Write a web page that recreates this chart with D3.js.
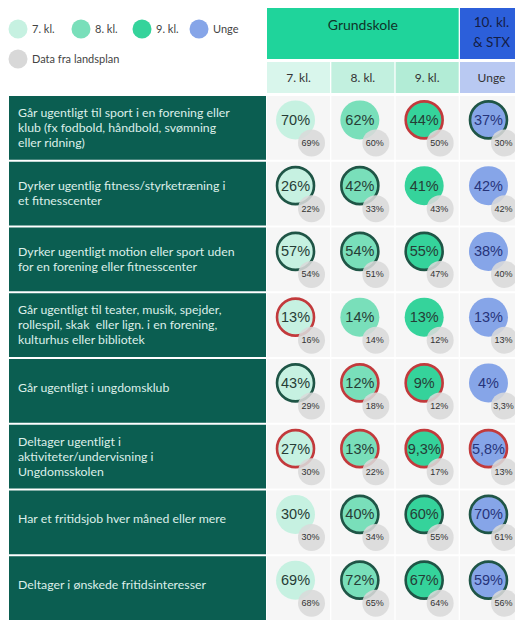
<!DOCTYPE html>
<html>
<head>
<meta charset="utf-8">
<script src="https://cdn.jsdelivr.net/npm/d3@7"></script>
<style>
  body { margin: 0; background: #fff; }
  svg { display: block; }
</style>
</head>
<body>
<svg id="chart"></svg>
<script>
let w = 515;
let h = 621;

let columns = ["7. kl.", "8. kl.", "9. kl.", "Unge"];
let colFill = ["#c6f1e1", "#79dfba", "#35d39b", "#86a5e8"];
let colHead = ["#d9f6ec", "#c2f0df", "#b2ecd6", "#b9c9f2"];

let rowLabels = [
  ["Går ugentligt til sport i en forening eller", "klub (fx fodbold, håndbold, svømning", "eller ridning)"],
  ["Dyrker ugentlig fitness/styrketræning i", "et fitnesscenter"],
  ["Dyrker ugentligt motion eller sport uden", "for en forening eller fitnesscenter"],
  ["Går ugentligt til teater, musik, spejder,", "rollespil, skak  eller lign. i en forening,", "kulturhus eller bibliotek"],
  ["Går ugentligt i ungdomsklub"],
  ["Deltager ugentligt i", "aktiviteter/undervisning i", "Ungdomsskolen"],
  ["Har et fritidsjob hver måned eller mere"],
  ["Deltager i ønskede fritidsinteresser"]
];

// local values per row: 7. kl, 8. kl, 9. kl, Unge
let localValues = [
  ["70%", "62%", "44%", "37%"],
  ["26%", "42%", "41%", "42%"],
  ["57%", "54%", "55%", "38%"],
  ["13%", "14%", "13%", "13%"],
  ["43%", "12%", "9%", "4%"],
  ["27%", "13%", "9,3%", "5,8%"],
  ["30%", "40%", "60%", "70%"],
  ["69%", "72%", "67%", "59%"]
];

// national values (Data fra landsplan)
let nationalValues = [
  ["69%", "60%", "50%", "30%"],
  ["22%", "33%", "43%", "42%"],
  ["54%", "51%", "47%", "40%"],
  ["16%", "14%", "12%", "13%"],
  ["29%", "18%", "12%", "3,3%"],
  ["30%", "22%", "17%", "13%"],
  ["30%", "34%", "55%", "61%"],
  ["68%", "65%", "64%", "56%"]
];

// ring: 1 = over landsplan (dark ring), -1 = under (red ring), 0 = none
let rings = [
  [0, 0, -1, 1],
  [1, 1, 0, 0],
  [1, 1, 1, 0],
  [-1, 0, 0, 0],
  [1, -1, -1, 0],
  [-1, -1, -1, -1],
  [0, 1, 1, 1],
  [0, 1, 1, 1]
];

let legendItems = [
  { label: "7. kl.", color: colFill[0], x: 18, y: 29 },
  { label: "8. kl.", color: colFill[1], x: 81, y: 29 },
  { label: "9. kl.", color: colFill[2], x: 142, y: 29 },
  { label: "Unge", color: colFill[3], x: 199, y: 29 },
  { label: "Data fra landsplan", color: "#d8d8d8", x: 18, y: 59 }
];

let svg = d3.select("#chart").attr("width", w).attr("height", h);

let xScale = d3.scaleBand().domain(columns).range([267, 267 + 4 * 64]).paddingInner(0.02);
let yScale = d3.scaleBand().domain(d3.range(rowLabels.length)).range([95, h]);

let labelFont = "Lato, 'Open Sans', sans-serif";
let numFont = "'Liberation Sans', Arial, sans-serif";

// legend
let leg = svg.append("g");
leg.selectAll("circle").data(legendItems).enter().append("circle")
   .attr("cx", d => d.x).attr("cy", d => d.y).attr("r", 9.5)
   .attr("fill", d => d.color);
leg.selectAll("text").data(legendItems).enter().append("text")
   .attr("x", d => d.x + 14).attr("y", d => d.y + 4)
   .attr("font-family", labelFont).attr("font-size", 11).attr("fill", "#444")
   .text(d => d.label);

// top header
let grundX0 = xScale("7. kl.");
let grundX1 = xScale("9. kl.") + xScale.bandwidth();
svg.append("rect").attr("x", grundX0).attr("y", 8)
   .attr("width", grundX1 - grundX0).attr("height", 51).attr("fill", "#1fd49b");
svg.append("text").attr("x", (grundX0 + grundX1) / 2).attr("y", 30)
   .attr("text-anchor", "middle").attr("font-family", labelFont).attr("font-size", 14)
   .attr("fill", "#10352a").text("Grundskole");
svg.append("rect").attr("x", xScale("Unge")).attr("y", 8)
   .attr("width", xScale.bandwidth()).attr("height", 51).attr("fill", "#2c5fda");
svg.append("text").attr("x", xScale("Unge") + xScale.bandwidth() / 2).attr("y", 27)
   .attr("text-anchor", "middle").attr("font-family", labelFont).attr("font-size", 13.5)
   .attr("fill", "#141d45").text("10. kl.");
svg.append("text").attr("x", xScale("Unge") + xScale.bandwidth() / 2).attr("y", 47)
   .attr("text-anchor", "middle").attr("font-family", labelFont).attr("font-size", 13.5)
   .attr("fill", "#141d45").text("& STX");

// sub header
svg.selectAll(".subhead").data(columns).enter().append("rect")
   .attr("class", "subhead")
   .attr("x", d => xScale(d)).attr("y", 62)
   .attr("width", xScale.bandwidth()).attr("height", 31)
   .attr("fill", (d, i) => colHead[i]);
svg.selectAll(".subtext").data(columns).enter().append("text")
   .attr("class", "subtext")
   .attr("x", d => xScale(d) + xScale.bandwidth() / 2).attr("y", 82)
   .attr("text-anchor", "middle").attr("font-family", labelFont).attr("font-size", 12)
   .attr("fill", "#333").text(d => d);

// row labels
let rows = svg.selectAll(".row").data(rowLabels).enter().append("g").attr("class", "row");
rows.append("rect")
    .attr("x", 9).attr("y", (d, i) => yScale(i) + 1)
    .attr("width", 266 - 9).attr("height", yScale.bandwidth() - 2)
    .attr("fill", "#0b5e51");
rows.each(function (lines, i) {
  let g = d3.select(this);
  let mid = yScale(i) + yScale.bandwidth() / 2;
  let lh = 15;
  let start = mid - (lines.length - 1) * lh / 2 + 4 - (lines.length === 1 ? 3 : 0);
  lines.forEach((t, j) => {
    g.append("text").attr("x", 18).attr("y", start + j * lh)
     .attr("font-family", labelFont).attr("font-size", 12.3).attr("fill", "#dcefe9")
     .attr("xml:space", "preserve").text(t);
  });
});

// cells
let cellData = [];
localValues.forEach((row, i) => {
  row.forEach((v, j) => {
    cellData.push({ row: i, col: columns[j], ci: j, value: v, national: nationalValues[i][j], ring: rings[i][j] });
  });
});

svg.selectAll(".cellbg").data(cellData).enter().append("rect")
   .attr("class", "cellbg")
   .attr("x", d => xScale(d.col)).attr("y", d => yScale(d.row) + 1)
   .attr("width", xScale.bandwidth()).attr("height", yScale.bandwidth() - 2)
   .attr("fill", "#f6f6f6");

let cells = svg.selectAll(".cell").data(cellData).enter().append("g").attr("class", "cell");
let cx = d => xScale(d.col) + xScale.bandwidth() / 2 - 3;
let cy = d => yScale(d.row) + yScale.bandwidth() / 2 - 8;

cells.append("circle")
     .attr("cx", cx).attr("cy", cy).attr("r", d => d.ring ? 18.5 : 19.5)
     .attr("fill", d => colFill[d.ci])
     .attr("stroke", d => d.ring === 1 ? "#1f5546" : d.ring === -1 ? "#c23a3c" : "none")
     .attr("stroke-width", 2.6);

cells.append("text")
     .attr("x", cx).attr("y", d => cy(d) + 5)
     .attr("text-anchor", "middle").attr("font-family", numFont).attr("font-size", 14.5)
     .attr("fill", d => d.ci === 3 ? "#27347a" : "#263d36")
     .text(d => d.value);

cells.append("circle")
     .attr("cx", d => cx(d) + 16).attr("cy", d => cy(d) + 23).attr("r", 13.5)
     .attr("fill", "#d9d9d9").attr("fill-opacity", 0.88);

cells.append("text")
     .attr("x", d => cx(d) + 15).attr("y", d => cy(d) + 26)
     .attr("text-anchor", "middle").attr("font-family", numFont).attr("font-size", 9)
     .attr("fill", "#333")
     .text(d => d.national);
</script>
</body>
</html>
